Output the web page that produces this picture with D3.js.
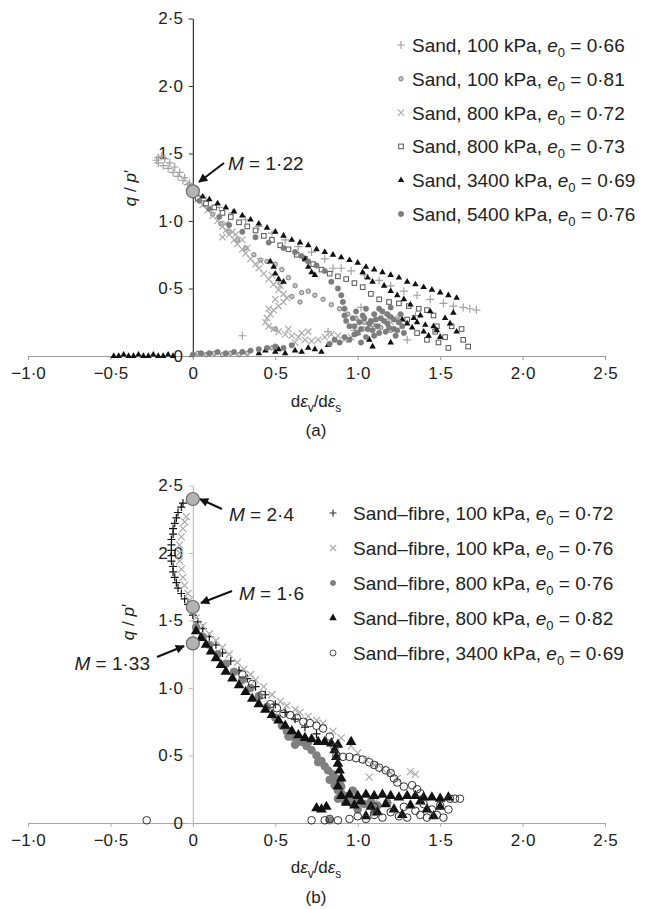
<!DOCTYPE html>
<html>
<head>
<meta charset="utf-8">
<script src="https://cdn.jsdelivr.net/npm/d3@7"></script>
<style>
  body { margin: 0; background: #fff; }
  text { font-family: "Liberation Sans", Arial, sans-serif; fill: #222; }
</style>
</head>
<body>
<svg id="chart" width="651" height="909"></svg>
<script>
// ---- data: [dev/des, q/p'] ----
const xTicks = [-1, -0.5, 0, 0.5, 1, 1.5, 2, 2.5];
const yTicks = [0, 0.5, 1, 1.5, 2, 2.5];

// (a) sand
const sandLabels = [
  ["Sand, 100 kPa, ", "0·66"], ["Sand, 100 kPa, ", "0·81"], ["Sand, 800 kPa, ", "0·72"],
  ["Sand, 800 kPa, ", "0·73"], ["Sand, 3400 kPa, ", "0·69"], ["Sand, 5400 kPa, ", "0·76"]
];
const sand100_066 = [
  [0,1.24],[-0.02,1.28],[-0.05,1.32],[-0.08,1.36],[-0.11,1.4],[-0.14,1.43],[-0.17,1.46],[-0.19,1.48],[-0.21,1.47],
  [-0.22,1.45],[-0.21,1.43],[-0.18,1.41],[-0.15,1.39],[-0.12,1.36],[-0.09,1.33],[-0.06,1.3],[-0.03,1.27],
  [0.08,1.15],[0.16,1.1],[0.24,1.06],[0.32,1.01],[0.4,0.96],[0.48,0.91],[0.56,0.86],[0.64,0.81],[0.72,0.77],[0.8,0.72],
  [0.85,0.65],[0.9,0.65],[0.96,0.63],[1.04,0.6],[1.13,0.56],[1.2,0.52],[1.28,0.48],[1.36,0.45],[1.44,0.42],[1.52,0.39],
  [1.58,0.37],[1.64,0.36],[1.68,0.35],[1.72,0.34],[0.3,0.15],[0.82,0.18],[0.98,0.19],[1.35,0.3],[1.3,0.12],
  [1.18,0.3],[1.24,0.26],[1.02,0.36]
];
const sand100_081 = [
  [0.02,1.18],[0.07,1.12],[0.12,1.05],[0.17,0.98],[0.22,0.92],[0.27,0.86],[0.32,0.8],[0.37,0.75],[0.41,0.71],[0.45,0.7],
  [0.5,0.68],[0.54,0.64],[0.58,0.58],[0.62,0.52],[0.66,0.47],[0.7,0.48],[0.74,0.45],[0.79,0.42],[0.84,0.38],[0.89,0.35],
  [0.94,0.31],[0.99,0.28],[1.04,0.25],[1.09,0.23],[1.14,0.21],[1.2,0.19],[0.6,0.44],[0.65,0.4],[0.53,0.54],
  [0.03,0.02],[0.08,0.01],[0.13,0.02],[0.18,0.01],[0.23,0.02],[0.28,0.01],[0.33,0.02],[0.5,0.2],[0.48,0.06]
];
const sand800_072 = [
  [0.03,1.16],[0.06,1.12],[0.09,1.08],[0.12,1.04],[0.15,1.0],[0.18,0.96],[0.2,0.93],[0.22,0.9],[0.25,0.86],[0.27,0.83],
  [0.3,0.79],[0.32,0.76],[0.35,0.72],[0.38,0.68],[0.4,0.65],[0.43,0.61],[0.46,0.57],[0.49,0.53],[0.52,0.49],[0.55,0.46],
  [0.57,0.43],[0.55,0.4],[0.52,0.37],[0.49,0.34],[0.47,0.31],[0.45,0.28],[0.44,0.25],[0.46,0.22],[0.49,0.2],[0.52,0.18],
  [0.56,0.16],[0.6,0.15],[0.64,0.14],[0.68,0.12],[0.72,0.11],[0.76,0.12],[0.8,0.14],[0.84,0.16],[0.88,0.15],[0.92,0.12],
  [0.96,0.14],[1.0,0.18],[1.05,0.2],[1.12,0.22],[1.2,0.25],[1.25,0.28],[0.7,0.18],[0.62,0.1],[0.18,0.88],[0.24,0.92],[0.3,0.86],
  [0.2,0.98],[0.26,0.9],[0.33,0.8],[0.41,0.7],[0.48,0.6],[0.53,0.52],[0.5,0.42],[0.46,0.35],[0.58,0.2],[0.66,0.17]
];
const sand800_073 = [
  [0.03,1.17],[0.08,1.13],[0.13,1.1],[0.18,1.06],[0.23,1.03],[0.28,0.99],[0.33,0.96],[0.38,0.93],[0.43,0.89],[0.48,0.86],
  [0.53,0.82],[0.58,0.79],[0.63,0.75],[0.68,0.72],[0.73,0.68],[0.78,0.64],[0.83,0.61],[0.88,0.59],[0.93,0.57],[0.98,0.54],
  [1.03,0.51],[1.08,0.46],[1.13,0.42],[1.19,0.4],[1.25,0.39],[1.31,0.37],[1.37,0.35],[1.42,0.34],[1.46,0.3],[1.48,0.22],
  [1.47,0.18],[1.49,0.1],[1.53,0.14],[1.57,0.22],[1.63,0.2],[1.64,0.12],[1.67,0.07],[1.55,0.06],[1.42,0.12],[1.36,0.17],[1.3,0.27]
];
const sand3400_069 = [
  [0.02,1.21],[0.06,1.18],[0.1,1.16],[0.15,1.13],[0.2,1.1],[0.25,1.07],[0.3,1.04],[0.35,1.01],[0.4,0.98],[0.45,0.95],
  [0.5,0.92],[0.55,0.89],[0.6,0.86],[0.65,0.84],[0.7,0.82],[0.75,0.79],[0.8,0.77],[0.85,0.75],[0.9,0.73],[0.95,0.71],
  [1.0,0.69],[1.05,0.66],[1.1,0.64],[1.15,0.62],[1.2,0.6],[1.25,0.58],[1.3,0.55],[1.35,0.53],[1.4,0.51],[1.45,0.49],
  [1.5,0.47],[1.55,0.45],[1.6,0.43],
  [0.47,0.7],[0.49,0.66],[0.5,0.61],[0.52,0.57],[0.55,0.55],[0.68,0.72],[0.7,0.66],[0.72,0.62],[0.74,0.6],[1.03,0.62],
  [1.06,0.58],[1.09,0.55],[1.16,0.52],[1.2,0.48],[1.24,0.45],[1.28,0.42],[1.32,0.38],
  [1.27,0.27],[1.3,0.24],[1.33,0.21],[1.36,0.25],[1.4,0.18],[1.43,0.15],[1.46,0.22],[1.5,0.14],[1.53,0.28],[1.56,0.24],
  [1.58,0.32],[1.6,0.18],[1.38,0.3],[1.44,0.33],[1.07,0.12],[1.09,0.07],[1.2,0.1],[1.34,0.28],[1.41,0.23],[1.48,0.19],
  [0.4,0.02],[0.44,0.04],[0.5,0.03],[0.52,0.05],[0.56,0.02],[0.62,0.04],[0.66,0.03],[0.7,0.06],[0.74,0.05],[0.78,0.03],[0.82,0.08],
  [-0.48,0.0],[-0.45,0.0],[-0.42,0.01],[-0.39,0.0],[-0.36,0.0],[-0.33,0.01],[-0.3,0.0],[-0.27,0.0],[-0.24,0.01],[-0.21,0.0],
  [-0.18,0.0],[-0.15,0.01],[-0.12,0.0]
];
const sand5400_076 = [
  [0.04,1.15],[0.1,1.09],[0.16,1.03],[0.22,0.97],[0.3,0.92],[0.38,0.88],[0.46,0.84],[0.55,0.8],[0.62,0.77],[0.66,0.74],
  [0.7,0.7],[0.75,0.67],[0.8,0.63],[0.84,0.55],[0.88,0.5],[0.9,0.45],[0.91,0.4],[0.92,0.35],[0.92,0.3],[0.93,0.26],
  [0.95,0.22],[0.97,0.28],[0.99,0.33],[1.01,0.25],[1.03,0.3],[1.05,0.35],[1.06,0.2],[1.08,0.26],[1.1,0.31],[1.12,0.22],
  [1.14,0.28],[1.15,0.33],[1.17,0.18],[1.18,0.24],[1.2,0.29],[1.22,0.2],[1.23,0.15],[1.25,0.25],[1.26,0.31],[1.28,0.17],
  [1.1,0.15],[1.05,0.14],[1.0,0.17],[1.13,0.35],[1.2,0.36],[0.98,0.22],[1.02,0.2],[1.07,0.24],[1.11,0.27],[1.16,0.26],
  [1.19,0.21],[1.24,0.19],[1.27,0.22],[1.09,0.19],[1.04,0.28],[1.13,0.17],[1.18,0.31],[1.22,0.27],
  [0.83,0.09],[0.86,0.12],[0.89,0.1],[0.92,0.14],[0.95,0.12],[0.98,0.16],[1.02,0.1],
  [0.0,0.01],[0.05,0.02],[0.1,0.02],[0.15,0.03],[0.2,0.02],[0.25,0.03],[0.3,0.03],[0.35,0.04],[0.4,0.05],[0.45,0.06],
  [0.5,0.07],[0.55,0.06],[0.6,0.08]
];

// (b) sand-fibre
const fibreLabels = [
  ["Sand–fibre, 100 kPa, ", "0·72"], ["Sand–fibre, 100 kPa, ", "0·76"], ["Sand–fibre, 800 kPa, ", "0·76"],
  ["Sand–fibre, 800 kPa, ", "0·82"], ["Sand–fibre, 3400 kPa, ", "0·69"]
];
const fibre100_072 = [
  [-0.06,2.37],[-0.07,2.34],[-0.09,2.3],[-0.1,2.26],[-0.11,2.22],[-0.12,2.18],[-0.12,2.14],[-0.13,2.1],[-0.13,2.06],
  [-0.13,2.02],[-0.13,1.98],[-0.13,1.94],[-0.12,1.9],[-0.12,1.86],[-0.11,1.82],[-0.1,1.78],[-0.09,1.74],[-0.07,1.7],
  [-0.05,1.66],[-0.03,1.62],[-0.01,1.58],[0.0,1.54],
  [0.03,1.49],[0.06,1.44],[0.1,1.38],[0.14,1.32],[0.18,1.26],[0.23,1.2],[0.28,1.13],[0.33,1.07],[0.38,1.01],[0.44,0.95],
  [0.5,0.88],[0.56,0.82],[0.62,0.77],[0.68,0.71],[0.75,0.66]
];
const fibre100_076 = [
  [-0.04,2.27],[-0.05,2.23],[-0.06,2.18],[-0.07,2.12],[-0.08,2.06],[-0.08,2.0],[-0.08,1.94],[-0.07,1.88],[-0.06,1.82],
  [-0.05,1.76],[-0.03,1.7],[-0.02,1.65],
  [0.02,1.52],[0.06,1.46],[0.1,1.4],[0.14,1.35],[0.18,1.3],[0.22,1.25],[0.27,1.19],[0.31,1.14],[0.35,1.1],[0.38,1.06],
  [0.43,1.01],[0.48,0.95],[0.53,0.9],[0.57,0.87],[0.62,0.84],[0.65,0.82],[0.7,0.79],[0.75,0.76],[0.79,0.74],[0.85,0.68],
  [0.9,0.63],[0.96,0.57],[1.0,0.52],[1.05,0.47],[1.1,0.43],[1.07,0.34],[1.15,0.4],[1.2,0.37],[1.24,0.33],[1.32,0.38],
  [1.35,0.36],[1.0,0.12],[1.1,0.15]
];
const fibre800_076 = [
  [0.02,1.45],[0.06,1.38],[0.1,1.32],[0.15,1.25],[0.2,1.18],[0.25,1.12],[0.3,1.06],[0.35,1.0],[0.4,0.94],[0.45,0.86],
  [0.5,0.78],[0.54,0.72],[0.57,0.68],[0.6,0.64],[0.63,0.62],[0.66,0.6],[0.69,0.57],[0.72,0.54],[0.75,0.5],[0.78,0.46],
  [0.8,0.42],[0.82,0.39],[0.85,0.36],[0.87,0.33],[0.89,0.3],[0.9,0.27],[0.88,0.24],[0.9,0.22],[0.93,0.2],[0.88,0.18],
  [0.92,0.16],[0.96,0.15],[1.0,0.17],[1.04,0.14],[1.08,0.16],[1.12,0.13],[1.18,0.15],[0.97,0.24],[1.0,0.1],[1.1,0.08],[0.83,0.02],
  [0.58,0.64],[0.62,0.58],[0.7,0.6],[0.76,0.45],[0.83,0.32],[0.86,0.28],[0.95,0.19]
];
const fibre800_082 = [
  [0.02,1.42],[0.05,1.37],[0.08,1.32],[0.11,1.27],[0.14,1.22],[0.17,1.17],[0.2,1.12],[0.24,1.07],[0.28,1.02],[0.32,0.97],
  [0.36,0.92],[0.4,0.88],[0.44,0.84],[0.48,0.8],[0.52,0.76],[0.56,0.72],[0.6,0.68],[0.64,0.65],[0.68,0.63],[0.72,0.62],
  [0.76,0.6],[0.8,0.6],[0.84,0.59],[0.88,0.58],[0.96,0.6],
  [0.86,0.54],[0.87,0.49],[0.88,0.44],[0.89,0.39],[0.9,0.33],[0.88,0.27],
  [0.75,0.11],[0.78,0.1],[0.81,0.12],
  [0.9,0.2],[0.95,0.21],[1.0,0.2],[1.05,0.21],[1.1,0.2],[1.15,0.21],[1.2,0.2],[1.25,0.19],[1.3,0.2],[1.35,0.2],[1.4,0.19],
  [1.45,0.19],[1.5,0.18],[1.55,0.19],
  [0.93,0.15],[0.98,0.13],[1.02,0.16],[1.08,0.12],[1.12,0.08],[1.17,0.14],[1.22,0.1],[1.27,0.06],[1.32,0.13],[1.38,0.16],
  [1.42,0.1],[1.46,0.05],[1.5,0.12],[1.05,0.05]
];
const fibre3400_069 = [
  [0.3,1.1],[0.36,1.03],[0.42,0.95],[0.47,0.88],[0.51,0.85],[0.55,0.81],[0.59,0.8],[0.63,0.78],[0.67,0.75],[0.71,0.74],
  [0.75,0.72],[0.79,0.7],[0.83,0.64],[0.86,0.56],[0.87,0.5],[0.91,0.49],[0.95,0.49],[0.99,0.48],[1.03,0.47],[1.07,0.45],
  [1.1,0.43],[1.13,0.41],[1.17,0.39],[1.2,0.37],[1.22,0.33],[1.24,0.3],[1.28,0.27],[1.33,0.28],[1.36,0.25],[1.38,0.22],
  [0.72,0.02],[0.8,0.02],[0.83,0.03],[0.88,0.02],[0.95,0.03],[1.0,0.05],[1.05,0.03],[1.1,0.06],[1.15,0.04],[1.2,0.08],
  [1.25,0.05],[1.3,0.04],[1.35,0.09],[1.38,0.06],[1.42,0.04],[1.45,0.1],[1.48,0.06],[1.5,0.13],[1.52,0.04],[1.55,0.1],
  [1.28,0.12],[1.4,0.14],[1.1,0.12],[1.56,0.18],[1.59,0.18],[1.62,0.18],[-0.28,0.02]
];

// critical state ratios marked on the axis
const criticalA = [1.22];
const criticalB = [2.4, 1.6, 1.33];

// ---- drawing ----
const svg = d3.select('#chart');

const defs = svg.append('defs');
defs.append('marker')
  .attr('id', 'arrow')
  .attr('viewBox', '0 0 10 10')
  .attr('refX', 9).attr('refY', 5)
  .attr('markerUnits', 'userSpaceOnUse')
  .attr('markerWidth', 11).attr('markerHeight', 9)
  .attr('orient', 'auto')
  .append('path').attr('d', 'M0,0L10,5L0,10z').style('fill', '#111');

const x = d3.scaleLinear().domain([-1, 2.5]).range([28, 605]);

function fmt(v) {
  if (v === 0) return '0';
  return d3.format('.1f')(v).replace('.', '·');
}

// draws one marker at 0,0 inside g
function drawMarker(g, m) {
  if (m.type === 'plus') {
    g.append('path').attr('d', `M${-m.s},0H${m.s}M0,${-m.s}V${m.s}`)
      .style('stroke', m.color).style('stroke-width', m.w || 1.2).style('fill', 'none');
  } else if (m.type === 'cross') {
    g.append('path').attr('d', `M${-m.s},${-m.s}L${m.s},${m.s}M${-m.s},${m.s}L${m.s},${-m.s}`)
      .style('stroke', m.color).style('stroke-width', m.w || 1.2).style('fill', 'none');
  } else if (m.type === 'tri') {
    g.append('path').attr('d', d3.symbol(d3.symbolTriangle, m.s * m.s))
      .style('fill', m.color);
  } else if (m.type === 'square') {
    g.append('rect').attr('x', -m.s).attr('y', -m.s).attr('width', 2 * m.s).attr('height', 2 * m.s)
      .style('fill', m.fill || 'none').style('stroke', m.color).style('stroke-width', m.w || 1);
  } else {
    g.append('circle').attr('r', m.s)
      .style('fill', m.fill || 'none').style('stroke', m.color).style('stroke-width', m.w || 1);
  }
}

function drawPanel(p) {
  const y = d3.scaleLinear().domain([0, 2.5]).range([p.bottom, p.top]);
  const g = svg.append('g');

  // x axis
  const gx = g.append('g')
    .attr('transform', `translate(0,${p.bottom})`)
    .call(d3.axisBottom(x).tickValues(xTicks).tickFormat(fmt).tickSize(4).tickSizeOuter(0).tickPadding(7));
  gx.select('.domain').style('stroke', p.xColor);
  gx.selectAll('.tick line').style('stroke', p.xColor);
  gx.selectAll('text').style('font-size', '17px').style('fill', '#222')
    .style('font-family', '"Liberation Sans", Arial, sans-serif');

  // y axis at x = 0
  const gy = g.append('g')
    .attr('transform', `translate(${x(0)},0)`)
    .call(d3.axisLeft(y).tickValues(yTicks).tickFormat(fmt).tickSize(4).tickSizeOuter(0).tickPadding(6));
  gy.select('.domain').style('stroke', p.yColor).style('stroke-width', 1.2);
  gy.selectAll('.tick line').style('stroke', p.yColor);
  gy.selectAll('text').style('font-size', '17px').style('fill', '#222')
    .style('font-family', '"Liberation Sans", Arial, sans-serif');

  // series
  p.series.forEach(s => {
    g.append('g').selectAll('g.pt')
      .data(s.data)
      .enter().append('g')
      .classed('pt', true)
      .attr('transform', d => `translate(${x(d[0])},${y(d[1])})`)
      .each(function() { drawMarker(d3.select(this), s.marker); });
  });

  // axis titles
  const yt = g.append('text')
    .attr('transform', `translate(${p.yTitle[0]},${p.yTitle[1]}) rotate(-90)`)
    .attr('text-anchor', 'middle').style('font-size', '17px');
  yt.append('tspan').style('font-style', 'italic').text('q');
  yt.append('tspan').text(' / ');
  yt.append('tspan').style('font-style', 'italic').text('p');
  yt.append('tspan').text('′');

  const xt = g.append('text')
    .attr('x', 316).attr('y', p.bottom + p.xTitleDy)
    .attr('text-anchor', 'middle').style('font-size', '17px');
  xt.append('tspan').text('d');
  xt.append('tspan').style('font-style', 'italic').text('ε');
  xt.append('tspan').attr('dy', 5).style('font-size', '12px').text('v');
  xt.append('tspan').attr('dy', -5).text('/d');
  xt.append('tspan').style('font-style', 'italic').text('ε');
  xt.append('tspan').attr('dy', 5).style('font-size', '12px').text('s');

  g.append('text')
    .attr('x', 316).attr('y', p.bottom + p.capDy)
    .attr('text-anchor', 'middle').style('font-size', '17px')
    .text(p.caption);

  // legend
  const lg = g.append('g');
  p.series.forEach((s, i) => {
    const cy = p.legend.y0 + i * p.legend.step;
    const row = lg.append('g').attr('transform', `translate(${p.legend.mx},${cy})`);
    drawMarker(row, s.legendMarker || s.marker);
    const t = lg.append('text').attr('x', p.legend.tx).attr('y', cy + 7).style('font-size', '19px');
    t.append('tspan').text(s.label[0]);
    t.append('tspan').style('font-style', 'italic').text('e');
    t.append('tspan').attr('dy', 5).style('font-size', '13px').text('0');
    t.append('tspan').attr('dy', -5).text(' = ' + s.label[1]);
  });

  // critical state markers with arrows
  p.notes.forEach((n, i) => {
    const cy = y(p.crit[i]);
    g.append('line')
      .attr('x1', n.from[0]).attr('y1', n.from[1])
      .attr('x2', n.to[0]).attr('y2', n.to[1])
      .style('stroke', '#111').style('stroke-width', 2)
      .attr('marker-end', 'url(#arrow)');
    g.append('circle')
      .attr('cx', x(0)).attr('cy', cy).attr('r', 6.5)
      .style('fill', '#b3b3b3').style('stroke', '#6a6a6a').style('stroke-width', 1.2);
    const t = g.append('text')
      .attr('x', n.tx).attr('y', n.ty)
      .attr('text-anchor', n.anchor || 'start').style('font-size', '19px');
    t.append('tspan').style('font-style', 'italic').text('M');
    t.append('tspan').text(' = ' + String(p.crit[i]).replace('.', '·'));
  });
}

drawPanel({
  top: 18.5, bottom: 356, xColor: '#999', yColor: '#333',
  yTitle: [136, 188], xTitleDy: 51, capDy: 80, caption: '(a)',
  legend: { y0: 45, step: 33.8, mx: 401, tx: 412 },
  crit: criticalA,
  notes: [ { from: [224, 163], to: [199, 182], tx: 228, ty: 170 } ],
  series: [
    { label: sandLabels[0], data: sand100_066, marker: { type: 'plus', s: 4, color: '#a3a3a3' } },
    { label: sandLabels[1], data: sand100_081, marker: { type: 'circle', s: 2.2, color: '#7d7d7d', fill: '#c8c8c8' } },
    { label: sandLabels[2], data: sand800_072, marker: { type: 'cross', s: 3.2, color: '#ababab' } },
    { label: sandLabels[3], data: sand800_073, marker: { type: 'square', s: 2.3, color: '#555', fill: '#fff' } },
    { label: sandLabels[4], data: sand3400_069, marker: { type: 'tri', s: 4.3, color: '#111' } },
    { label: sandLabels[5], data: sand5400_076, marker: { type: 'circle', s: 2.7, color: '#777', fill: '#7d7d7d', w: 0.5 } }
  ]
});

drawPanel({
  top: 485.5, bottom: 823, xColor: '#aaa', yColor: '#bdbdbd',
  yTitle: [134, 622], xTitleDy: 50, capDy: 80, caption: '(b)',
  legend: { y0: 513, step: 35, mx: 333, tx: 353 },
  crit: criticalB,
  notes: [
    { from: [222, 509], to: [200, 499], tx: 229, ty: 521 },
    { from: [232, 591], to: [201, 603], tx: 239, ty: 600 },
    { from: [157, 657], to: [184, 646], tx: 150, ty: 670, anchor: 'end' }
  ],
  series: [
    { label: fibreLabels[0], data: fibre100_072, marker: { type: 'plus', s: 4, color: '#111' }, legendMarker: { type: 'plus', s: 3.5, color: '#333' } },
    { label: fibreLabels[1], data: fibre100_076, marker: { type: 'cross', s: 3.5, color: '#aaa' }, legendMarker: { type: 'cross', s: 3, color: '#aaa' } },
    { label: fibreLabels[2], data: fibre800_076, marker: { type: 'circle', s: 3.8, color: '#808080', fill: '#808080' }, legendMarker: { type: 'circle', s: 2.5, color: '#808080', fill: '#808080' } },
    { label: fibreLabels[3], data: fibre800_082, marker: { type: 'tri', s: 7, color: '#111' }, legendMarker: { type: 'tri', s: 5, color: '#111' } },
    { label: fibreLabels[4], data: fibre3400_069, marker: { type: 'circle', s: 3.8, color: '#333', w: 1 }, legendMarker: { type: 'circle', s: 3, color: '#555' } }
  ]
});
</script>
</body>
</html>
